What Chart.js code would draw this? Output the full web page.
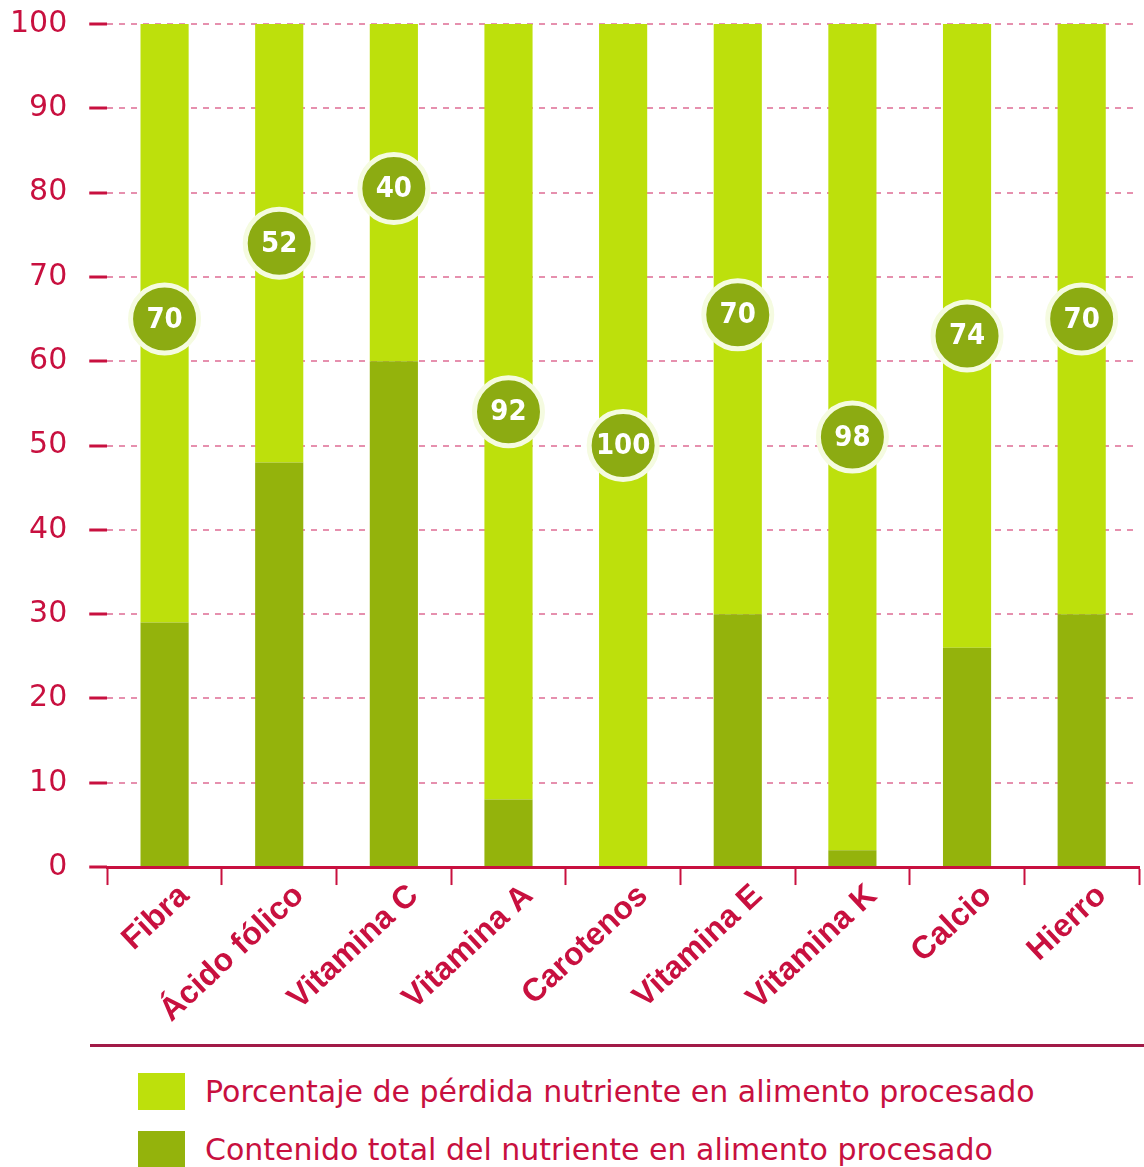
<!DOCTYPE html>
<html>
<head>
<meta charset="utf-8">
<script src="https://cdn.jsdelivr.net/npm/chart.js@4/dist/chart.umd.min.js"></script>
<style>
  html, body { margin: 0; padding: 0; background: #fff; overflow: hidden; width: 1144px; height: 1167px; }
  body { position: relative; }
  #wrap { position: absolute; left: -12px; top: -16px; width: 1190px; height: 1038px; }
  .legend { position: absolute; left: 90px; top: 1044px; width: 1054px; border-top: 3px solid #a11a47; }
  .item { position: absolute; left: 48px; height: 37px; display: flex; align-items: center;
          font: 30px "DejaVu Sans", sans-serif; color: #c8103f; white-space: nowrap; }
  .item i { display: inline-block; width: 47px; height: 37px; margin-right: 20px; }
</style>
</head>
<body>
<div id="wrap"><canvas id="nutrientChart"></canvas></div>
<div class="legend">
  <div class="item" style="top:26px"><i style="background:#bde00c"></i>Porcentaje de pérdida nutriente en alimento procesado</div>
  <div class="item" style="top:84px"><i style="background:#94b30c"></i>Contenido total del nutriente en alimento procesado</div>
</div>
<script>
/* ─── Data ─── */
const nutrients  = ["Fibra", "Ácido fólico", "Vitamina C", "Vitamina A", "Carotenos", "Vitamina E", "Vitamina K", "Calcio", "Hierro"];
const remaining  = [29, 48, 60, 8, 0, 30, 2, 26, 30];      // contenido total (verde oscuro)
const lost       = [71, 52, 40, 92, 100, 70, 98, 74, 70];  // pérdida (verde claro)
const badgeText  = [70, 52, 40, 92, 100, 70, 98, 74, 70];  // número en el círculo
const badgeY     = [65, 74, 80.5, 54, 50, 65.5, 51, 63, 65];
const yTicks     = [0, 10, 20, 30, 40, 50, 60, 70, 80, 90, 100];

const CRIMSON = "#c8103f";
const LIGHT   = "#bde00c";
const DARK    = "#94b30c";
const BADGE   = "#8cab12";

/* ─── Badge text plugin ─── */
const badgeLabels = {
  id: "badgeLabels",
  afterDatasetsDraw(chart) {
    const meta = chart.getDatasetMeta(2);
    const ctx = chart.ctx;
    ctx.save();
    ctx.fillStyle = "#fff";
    ctx.font = 'bold 29px "DejaVu Sans Condensed", "Liberation Sans Narrow", sans-serif';
    ctx.textAlign = "center";
    ctx.textBaseline = "middle";
    meta.data.forEach((pt, i) => ctx.fillText(String(badgeText[i]), pt.x, pt.y + 1));
    ctx.restore();
  }
};

new Chart(document.getElementById("nutrientChart"), {
  type: "bar",
  data: {
    labels: nutrients,
    datasets: [
      { label: "Contenido total del nutriente en alimento procesado", data: remaining,
        backgroundColor: DARK, stack: "s", order: 1 },
      { label: "Porcentaje de pérdida nutriente en alimento procesado", data: lost,
        backgroundColor: LIGHT, stack: "s", order: 1 },
      { type: "line", label: "badges", data: badgeY, stack: "badges", order: 0,
        showLine: false, pointRadius: 34, pointHoverRadius: 34,
        pointBackgroundColor: BADGE, pointBorderColor: "#f5fbe0", pointBorderWidth: 5 }
    ]
  },
  options: {
    responsive: true,
    maintainAspectRatio: false,
    animation: false,
    events: [],
    categoryPercentage: 1,
    barPercentage: 0.42,
    layout: { padding: { top: 10, right: 4, left: 0, bottom: 0 } },
    plugins: { legend: { display: false }, tooltip: { enabled: false } },
    scales: {
      x: {
        stacked: true,
        border: { display: true, color: CRIMSON, width: 3 },
        grid: { offset: true, drawOnChartArea: false, drawTicks: true, tickLength: 18,
                tickColor: CRIMSON, tickWidth: 2 },
        ticks: { color: CRIMSON, maxRotation: 43, minRotation: 43, padding: -8, labelOffset: 20,
                 font: { family: '"Liberation Sans", Arial, sans-serif', size: 32, weight: "bold" } }
      },
      y: {
        stacked: true,
        min: 0, max: 100,
        afterBuildTicks(scale) { scale.ticks = yTicks.map(v => ({ value: v })); },
        border: { display: false, dash: [6, 6] },
        grid: { color: "rgba(214,70,120,0.6)", lineWidth: 2, tickLength: 18,
                tickColor: CRIMSON, tickWidth: 3, tickBorderDash: [] },
        ticks: { color: CRIMSON, padding: 22,
                 font: { family: '"DejaVu Sans", sans-serif', size: 30 } }
      }
    }
  },
  plugins: [badgeLabels]
});
</script>
</body>
</html>
